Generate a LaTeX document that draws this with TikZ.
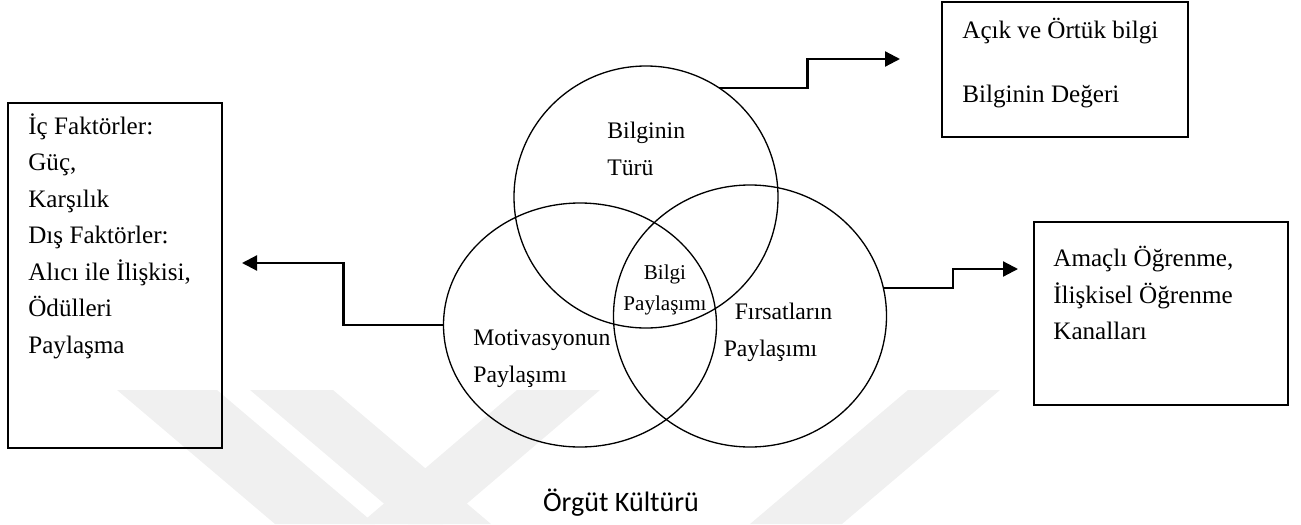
\documentclass[tikz,border=0pt]{standalone}
\usepackage{fontspec}
\setmainfont{Liberation Serif}
\newfontfamily\kultur{Carlito}
\usepackage{tikz}
\usetikzlibrary{positioning,shapes.geometric,arrows.meta}
\newdimen\px \px=0.02cm

\begin{document}
\begin{tikzpicture}[x=0.02cm,y=-0.02cm,
    venn/.style={ellipse,draw,line width=0.75pt,inner sep=0pt,outer sep=0pt},
    kutu/.style={rectangle,draw,line width=1.1pt,inner sep=0pt},
    yazi/.style={inner sep=0pt,align=left,font=\fontsize{14.3}{20.8}\selectfont},
    daire/.style={inner sep=0pt,align=left,font=\fontsize{13.5}{21}\selectfont},
    ok/.style={line width=1.25pt,-{Triangle[length=0.3cm,width=0.3cm]}},
    iz/.style={fill=black!6}]
    \useasboundingbox (0,0) rectangle (1301,524);
    % watermark
    \fill[iz] (117,390) -- (217,390) -- (375,524) -- (275,524) -- cycle;
    \fill[iz] (250,390) -- (333,390) -- (491,524) -- (408,524) -- cycle;
    \fill[iz] (517,390) -- (600,390) -- (443,524) -- (360,524) -- cycle;
    \fill[iz] (908,390) -- (1000,390) -- (842,524) -- (750,524) -- cycle;
    % circles
    \node[venn,minimum width=264\px,minimum height=262\px] (Tur) at (646,197) {};
    \node[venn,minimum width=273\px,minimum height=244\px] (Motiv) at (580,325) {};
    \node[venn,minimum width=273\px,minimum height=262\px] (Firsat) at (750,316) {};
    \node[daire,anchor=west] (TurYazi) at (607,149) {Bilginin\\Türü};
    \node[daire,align=center,font=\fontsize{12}{18}\selectfont] (Paylasim) at (665,290) {Bilgi\\Paylaşımı};
    \node[daire] (FirsatYazi) at (778,332) {\hspace*{0.22cm}Fırsatların\\Paylaşımı};
    \node[daire,anchor=west] (MotivYazi) at (473,359) {Motivasyonun\\Paylaşımı};
    % boxes
    \node[kutu,minimum width=214\px,minimum height=345\px] (Faktor) at (115,275.5) {};
    \node[kutu,minimum width=246\px,minimum height=135\px] (Bilgi) at (1065,69.5) {};
    \node[kutu,minimum width=254\px,minimum height=183\px] (Kanal) at (1161,313.5) {};
    \node[yazi,anchor=west] (FaktorYazi) at (28,236) {İç Faktörler:\\Güç,\\Karşılık\\Dış Faktörler:\\Alıcı ile İlişkisi,\\Ödülleri\\Paylaşma};
    \node[yazi,anchor=west,font=\fontsize{14.3}{36.9}\selectfont] (BilgiYazi) at (962,63) {Açık ve Örtük bilgi\\Bilginin Değeri};
    \node[yazi,anchor=west] (KanalYazi) at (1053,293) {Amaçlı Öğrenme,\\İlişkisel Öğrenme\\Kanalları};
    \node[inner sep=0pt,font=\kultur\fontsize{16}{19}\selectfont] (Kultur) at (621,503) {Örgüt Kültürü};
    % arrows
    \coordinate (BilgiUc) at (900,59);
    \coordinate (KanalUc) at (1018,269);
    \coordinate (FaktorUc) at (242,263);
    \draw[ok] (Tur.56) -- ++(88,0) |- (BilgiUc);
    \draw[ok] (Firsat.12) -- ++(70,0) |- (KanalUc);
    \draw[ok] (Motiv.west) -- ++(-100,0) |- (FaktorUc);
\end{tikzpicture}
\end{document}
